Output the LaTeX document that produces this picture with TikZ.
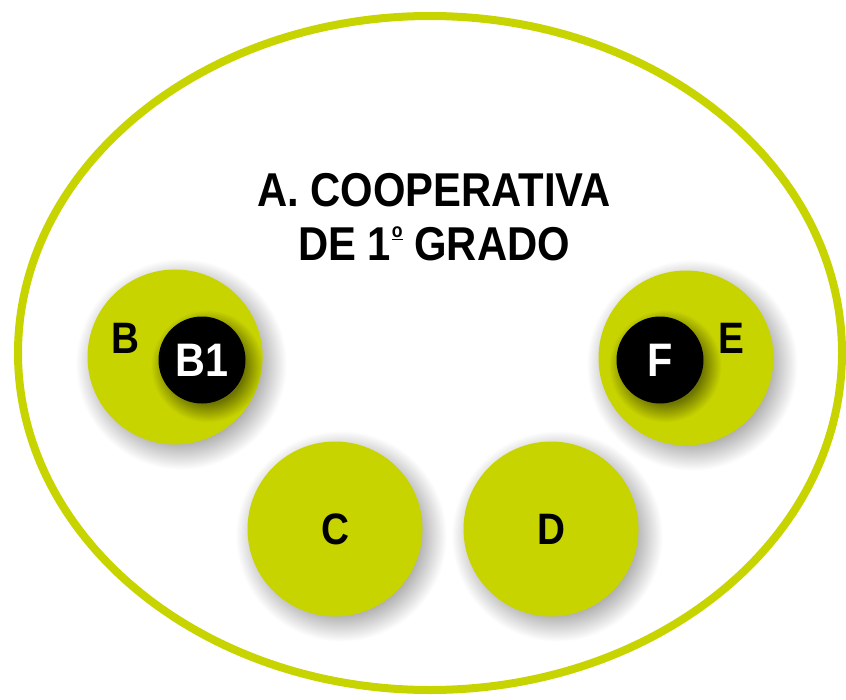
\documentclass[tikz,border=0pt]{standalone}
\usepackage{fontspec}
\usetikzlibrary{shapes.geometric}
\newfontfamily\lbl[FakeStretch=0.88]{Liberation Sans}
\definecolor{lime}{RGB}{200,212,0}
\pgfdeclareradialshading{halo}{\pgfpoint{0bp}{0bp}}{color(0bp)=(black!32); color(17.5bp)=(black!32); color(24bp)=(white); color(25bp)=(white); color(50bp)=(white)}
\pgfdeclareradialshading{limehalo}{\pgfpoint{0bp}{0bp}}{color(0bp)=(lime!55!black); color(15.5bp)=(lime!55!black); color(23.5bp)=(lime); color(25bp)=(lime); color(50bp)=(lime)}
\newcommand{\ordmark}{\kern1pt\raisebox{23pt}{\fontsize{20}{20}\selectfont\underline{o}}}
\tikzset{
  big/.style={circle, fill=lime, minimum size=175pt, inner sep=0pt, font=\lbl\bfseries\fontsize{44}{44}\selectfont, text=black},
  dark/.style={circle, fill=black, minimum size=87pt, inner sep=0pt, font=\lbl\bfseries\fontsize{47}{47}\selectfont, text=white},
  tag/.style={inner sep=0pt, font=\lbl\bfseries\fontsize{44}{44}\selectfont, text=black},
  outer/.style={ellipse, draw=lime, line width=8pt, fill=white, minimum width=824pt, minimum height=674pt, inner sep=0pt},
  bigshadow/.style={shading=halo},
  smallshadow/.style={shading=limehalo}
}
\begin{document}
\begin{tikzpicture}[x=1pt,y=-1pt]
\useasboundingbox[fill=white] (0,0) rectangle (846,699);
\node[outer] (A) at (430,353) {};
\node[inner sep=0pt, align=center, font=\lbl\bfseries\fontsize{47.5}{54}\selectfont] (title) at (434,217) {A. COOPERATIVA\\DE 1\ordmark{} GRADO};
% positions
\coordinate (pB) at (175,357);
\coordinate (pE) at (686,358);
\coordinate (pC) at (335,529);
\coordinate (pD) at (551,529);
\coordinate (pB1) at (202,360);
\coordinate (pF) at (660,360);
% shadows of the lime discs
\foreach \p in {pB,pE,pC,pD}
  \shade[bigshadow] ([shift={(6,7)}]\p) circle (110);
% lime discs
\node[big] (B) at (pB) {};
\node[big] (E) at (pE) {};
\node[big] (C) at (pC) {C};
\node[big] (D) at (pD) {D};
% shadows of the black discs, kept inside their lime disc
\begin{scope}
  \clip (pB) circle (87.5);
  \shade[smallshadow] ([shift={(5,6)}]pB1) circle (60);
\end{scope}
\begin{scope}
  \clip (pE) circle (87.5);
  \shade[smallshadow] ([shift={(5,6)}]pF) circle (60);
\end{scope}
\node[dark] (B1) at (pB1) {B1};
\node[dark] (F) at (pF) {F};
\node[tag] (Bl) at (125,338) {B};
\node[tag] (El) at (731,338) {E};
\end{tikzpicture}
\end{document}
